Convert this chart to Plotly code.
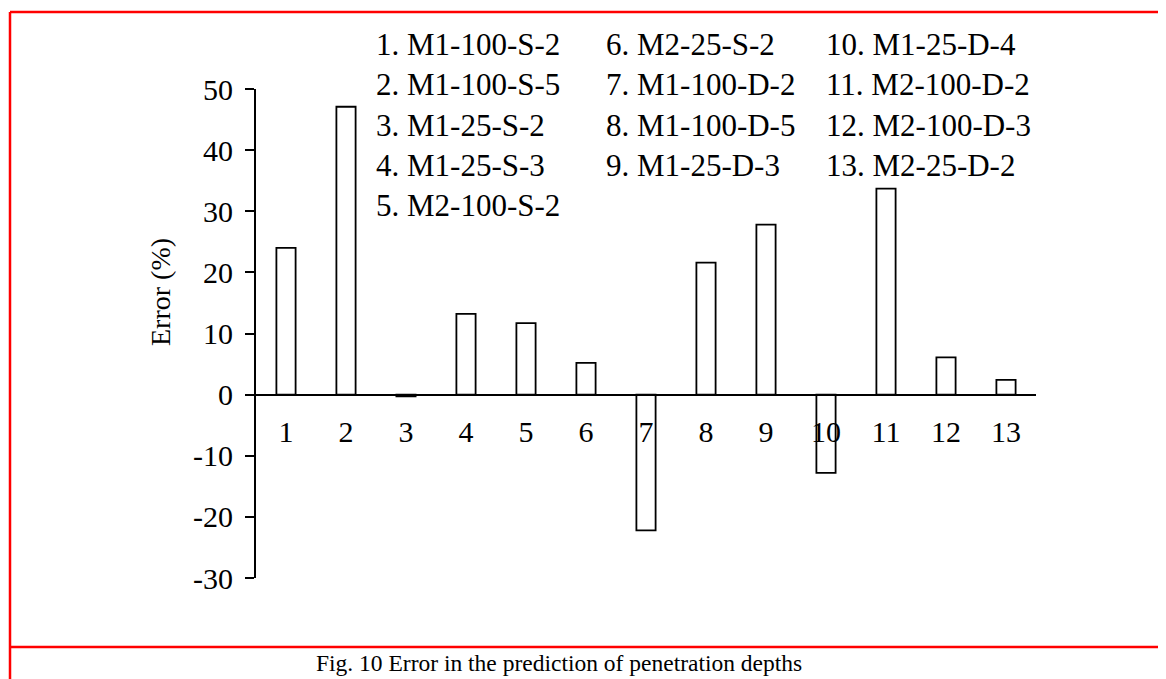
import plotly.graph_objects as go

# ---- data ----
categories = [str(i) for i in range(1, 14)]
errors = [24.0, 47.1, -0.3, 13.2, 11.7, 5.2, -22.2, 21.6, 27.8, -12.8, 33.7, 6.1, 2.4]
specimen_names = ["M1-100-S-2", "M1-100-S-5", "M1-25-S-2", "M1-25-S-3", "M2-100-S-2",
                  "M2-25-S-2", "M1-100-D-2", "M1-100-D-5", "M1-25-D-3",
                  "M1-25-D-4", "M2-100-D-2", "M2-100-D-3", "M2-25-D-2"]
y_ticks = [50, 40, 30, 20, 10, 0, -10, -20, -30]
y_title = "Error (%)"
caption = "Fig. 10 Error in the prediction of penetration depths"

# ---- layout geometry (pixels, page has an 8px body offset) ----
OFF = 8
W, H = 1166, 679
L, T = 256 - OFF, 89 - OFF
PW, PH = 780, 489
R, B = W - L - PW, H - T - PH
ymin, ymax = -30, 50
FONT = "Liberation Serif, Times New Roman, serif"


def px(x):
    return (x - OFF - L) / PW


def py(y):
    return (T + PH - (y - OFF)) / PH


fig = go.Figure()
fig.add_trace(go.Bar(
    x=categories, y=errors, width=0.32,
    marker=dict(color="white", line=dict(color="black", width=1.8)),
    showlegend=False,
))

fig.update_layout(
    width=W, height=H,
    margin=dict(l=L, r=R, t=T, b=B),
    paper_bgcolor="white", plot_bgcolor="white",
    font=dict(family=FONT, size=30, color="black"),
    xaxis=dict(
        type="category", range=[-0.5, 12.5],
        showline=True, linecolor="black", linewidth=1.8,
        anchor="free", position=(0 - ymin) / (ymax - ymin),
        ticks="", showgrid=False, zeroline=False,
        tickfont=dict(family=FONT, size=30, color="black"),
        ticklabelstandoff=10,
    ),
    yaxis=dict(
        range=[ymin, ymax], tickvals=y_ticks, ticktext=[str(v) for v in y_ticks],
        showline=True, linecolor="black", linewidth=1.8,
        ticks="outside", ticklen=9, tickwidth=1.8, tickcolor="black",
        showgrid=False, zeroline=False,
        tickfont=dict(family=FONT, size=30, color="black"),
        ticklabelstandoff=6,
    ),
)

# y-axis title
fig.add_annotation(
    x=px(160), y=py(292), xref="paper", yref="paper", text=y_title,
    textangle=-90, showarrow=False, xanchor="center", yanchor="middle",
    font=dict(family=FONT, size=28, color="black"),
)

# legend-like text list (three columns)
col_x = [374, 604, 824]
row_y = [44, 84.5, 125, 165.5, 206]
col_split = [5, 9, 13]
start = 0
for c, end in enumerate(col_split):
    for r, i in enumerate(range(start, end)):
        fig.add_annotation(
            x=px(col_x[c]), y=py(row_y[r]), xref="paper", yref="paper",
            text=f"{i + 1}. {specimen_names[i]}", showarrow=False,
            xanchor="left", yanchor="middle",
            font=dict(family=FONT, size=31, color="black"),
        )
    start = end

# caption
fig.add_annotation(
    x=px(558.5), y=py(663), xref="paper", yref="paper", text=caption,
    showarrow=False, xanchor="center", yanchor="middle",
    font=dict(family=FONT, size=23.5, color="black"),
)

# red frame
red = dict(color="#ff0000", width=2.5)
fig.add_shape(type="line", xref="paper", yref="paper", x0=px(10), x1=px(W + 20), y0=py(12), y1=py(12), line=red)
fig.add_shape(type="line", xref="paper", yref="paper", x0=px(10), x1=px(10), y0=py(12), y1=py(H + 20), line=red)
fig.add_shape(type="line", xref="paper", yref="paper", x0=px(10), x1=px(W + 20), y0=py(647), y1=py(647), line=red)

fig.write_html("out.html")
